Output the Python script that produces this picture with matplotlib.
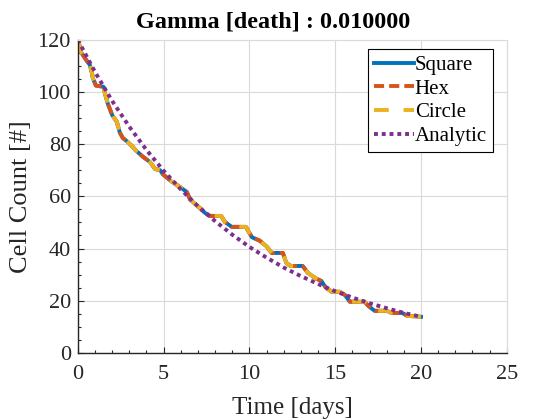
import numpy as np
import matplotlib
matplotlib.use("Agg")
import matplotlib.pyplot as plt
from matplotlib.ticker import MultipleLocator

COL_SQUARE = "#0072BD"
COL_HEX = "#D95319"
COL_CIRCLE = "#EDB120"
COL_ANALYTIC = "#7E2F8E"

# simulated cell counts
sim_t = [0.0, 0.06, 0.17, 0.52, 0.7, 0.82, 0.87, 1.05, 1.5, 1.6, 1.75, 2.0, 2.27,
         2.45, 2.62, 2.9, 3.2, 3.35, 3.79, 4.2, 4.5, 4.8, 4.95, 5.48, 5.94, 6.35,
         6.55, 6.9, 7.1, 7.4, 7.7, 8.35, 8.57, 8.97, 9.8, 9.95, 10.15, 10.6, 11.0,
         11.3, 11.95, 12.15, 12.4, 13.1, 13.4, 13.85, 14.2, 14.45, 14.8, 15.27,
         15.56, 15.85, 16.7, 17.0, 17.3, 18.0, 18.3, 18.9, 19.2, 20.0]
square_n = [120, 118.9, 115.4, 112, 110.4, 107.4, 105.4, 102.5, 102, 99, 95.5, 91.2, 88.6,
            84.4, 82.4, 80.9, 79, 77.8, 75.2, 73.2, 70.5, 70, 68.5, 65.6, 63.6, 61.7,
            58.7, 56.7, 55.6, 53.7, 52.5, 52.5, 50.2, 48.3, 48.3, 46.5, 44.3, 43, 40.8,
            38.3, 38.3, 34.5, 33.3, 33.3, 30.7, 28.6, 27.5, 25, 23.4, 23.4,
            22.2, 19.6, 19.6, 17.6, 16.1, 16.1, 15.3, 15.3, 14.2, 13.8]
hex_n = square_n
circle_n = square_n

# analytic curve, read at whole days
analytic_t = list(range(21))
analytic_n = [120, 107.7, 96.6, 86.7, 77.8, 69.8, 62.7, 56.2, 50.5, 45.3, 40.6,
              36.5, 32.7, 29.4, 26.4, 23.6, 21.2, 19.0, 17.1, 15.3, 13.8]

plt.rcParams["font.family"] = ["Liberation Serif", "DejaVu Serif"]

fig = plt.figure(figsize=(5.6, 4.2), dpi=100)
ax = fig.add_axes([0.139, 0.160, 0.766, 0.745])

lw = 2.8
ax.plot(sim_t, square_n, color=COL_SQUARE, linewidth=lw, label="Square")
ax.plot(sim_t, hex_n, color=COL_HEX, linewidth=lw, linestyle=(0, (2.6, 1.3)), label="Hex")
ax.plot(sim_t, circle_n, color=COL_CIRCLE, linewidth=lw, linestyle=(0, (3.8, 3.8)), label="Circle")
ax.plot(analytic_t, analytic_n, color=COL_ANALYTIC, linewidth=lw, linestyle=(0, (1, 1)), label="Analytic")

ax.set_xlim(0, 25)
ax.set_ylim(0, 120)
ax.xaxis.set_major_locator(MultipleLocator(5))
ax.xaxis.set_minor_locator(MultipleLocator(1))
ax.yaxis.set_major_locator(MultipleLocator(20))
ax.yaxis.set_minor_locator(MultipleLocator(5))
ax.tick_params(which="both", direction="in", labelsize=16, width=0.8, colors="#262626")
ax.tick_params(which="major", length=4)
ax.tick_params(which="minor", length=2)
ax.tick_params(axis="x", pad=9)
ax.tick_params(axis="y", pad=5)

ax.grid(True, which="major", color="#DADADA", linewidth=0.8)
ax.set_axisbelow(True)
for s in ["top", "right"]:
    ax.spines[s].set_color("#DADADA")
for s in ["left", "bottom"]:
    ax.spines[s].set_color("#262626")
    ax.spines[s].set_linewidth(1.0)

ax.set_xlabel("Time [days]", fontsize=18, color="#262626", labelpad=9)
ax.set_ylabel("Cell Count [#]", fontsize=19, color="#262626", labelpad=4)
ax.set_title("Gamma [death] : 0.010000", fontsize=17.5, fontweight="bold", pad=9, x=0.456)

leg = ax.legend(loc="upper right", bbox_to_anchor=(0.968, 0.971), borderaxespad=0,
                fontsize=15, handlelength=1.9, handletextpad=0.05,
                borderpad=0.3, labelspacing=0.2, fancybox=False, framealpha=1)
leg.get_frame().set_edgecolor("black")
leg.get_frame().set_linewidth(0.8)

plt.savefig("out.png", dpi=100)
